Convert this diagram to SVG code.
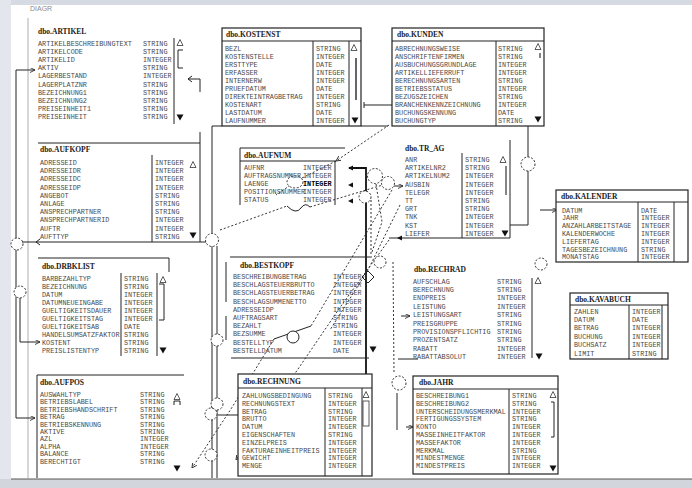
<svg xmlns="http://www.w3.org/2000/svg" xmlns:xlink="http://www.w3.org/1999/xlink" width="692" height="488" viewBox="0 0 692 488">
<style>
.t{font-family:"Liberation Mono",monospace;font-size:6.8px;fill:#4a4a4a}
.h{font-family:"Liberation Serif",serif;font-size:7.5px;font-weight:bold;fill:#1a1a1a}
.ti{font-family:"Liberation Sans",sans-serif;font-size:7px;fill:#8a8a8a}
.ln{stroke:#222;stroke-width:1;fill:none}
.bx{stroke:#222;stroke-width:1.2;fill:#fff}
.dot{stroke:#333;stroke-width:1;stroke-dasharray:2 2;fill:none}
.dc{stroke:#333;stroke-width:1;stroke-dasharray:2 1.6;fill:#fff}
.thk{stroke:#111;stroke-width:1.8;fill:none}
</style>
<defs>
<path id="up" d="M0,-3.5 L3,2.5 L-3,2.5 Z" fill="none" stroke="#333" stroke-width="0.8"/>
<path id="dn" d="M-3.5,-2.5 L3.5,-2.5 L0,3.5 Z" fill="#111"/>
<path id="lt" d="M3,-2.5 L-2,0 L3,2.5 Z" fill="#111"/>
<marker id="a" viewBox="0 0 6 6" refX="6" refY="3" markerWidth="5" markerHeight="5" orient="auto"><path d="M0,0 L6,3 L0,6" fill="none" stroke="#222" stroke-width="1"/></marker>
</defs>
<rect x="0" y="0" width="692" height="488" fill="#fff"/>
<rect x="0" y="0" width="692" height="5" fill="#d6dae2"/>
<rect x="0" y="0" width="11" height="488" fill="#e3e6ec"/>
<rect x="0" y="479" width="692" height="9" fill="#d2d5dc"/>
<line x1="11" y1="479" x2="692" y2="479" stroke="#555" stroke-width="1"/>
<text class="ti" x="30" y="11">DIAGR</text>
<line x1="28" y1="18" x2="28" y2="478" stroke="#999" stroke-width="0.8"/>

<g id="connectors">
<path class="ln" d="M16,243 L16,70 L35,70" marker-end="url(#a)"/>
<path class="ln" d="M16,243 L16,418 L35,418" marker-end="url(#a)"/>
<path class="ln" d="M20,292 L20,342 L40,342" marker-end="url(#a)"/>
<path class="ln" d="M188,79 L200,79 L200,92 M192,76 L188,79 L192,82"/>
<path class="ln" d="M212,126 L222,126 M361,126 L388,126 M212,126 L212,234"/>
<path class="ln" d="M212,246 L212,478 M217,246 L217,478"/>
<path class="ln" d="M364,102 L364,108 M364,105 L528,105 L528,157 M528,171 L528,225 L510,225 M510,140 L510,238"/>
<path class="ln" d="M540,210 L557,210" marker-end="url(#a)"/>
<path class="dot" d="M389,125 L336,161" marker-end="url(#a)"/>
<path class="dot" d="M336,161 L298,180 L276,195"/>
<path class="dot" d="M220,230 L287,206 M310,207 L386,184"/>
<path class="ln" d="M287,206 Q296,215 301,208 Q305,202 310,207"/>
<path class="ln" d="M394,186 L403,186" marker-end="url(#a)"/>
<path class="thk" d="M349,168 L366,168 L366,462"/>
<use href="#dn" x="366" y="465"/>
<use href="#lt" x="350" y="168"/>
<use href="#lt" x="350" y="185"/>
<use href="#lt" x="350" y="201"/>
<path class="dot" d="M371,200 L371,258 M376,184 L382,222 L372,252"/>
<path class="dot" d="M389,240 L341,306 L236,460" marker-end="url(#a)"/>
<path class="dot" d="M392,190 L311,326 M274,339 L231,409 L192,468" marker-end="url(#a)"/>
<path class="ln" d="M311,326 L274,339"/>
<path class="dot" d="M400,205 L368,270 L330,330"/>
<path class="dot" d="M393,262 L394,372"/>
<path class="ln" d="M397,393 L397,430 M398,359 L418,359"/>
<path class="ln" d="M218,415 L238,415"/>
<path class="ln" d="M226,262 L226,302 M226,316 L226,340"/>
<path class="ln" d="M406,427 L413,427" marker-end="url(#a)"/>
<path class="ln" d="M401,316 L410,316" marker-end="url(#a)"/>
<path class="ln" d="M368,271 L374,277 L368,283 L362,277 Z" fill="#fff"/>
<circle class="dc" cx="17" cy="244" r="6"/>
<circle class="dc" cx="20" cy="292" r="6"/>
<circle class="dc" cx="212" cy="240" r="6.5"/>
<circle class="dc" cx="217" cy="340" r="6"/>
<circle class="dc" cx="217" cy="404" r="6"/>
<circle class="dc" cx="211" cy="414" r="6"/>
<circle class="dc" cx="211" cy="455" r="6"/>
<circle class="dc" cx="528" cy="164" r="7"/>
<circle class="dc" cx="541" cy="264" r="6"/>
<circle class="dc" cx="375" cy="176" r="7.5"/>
<circle class="dc" cx="365" cy="197" r="6"/>
<circle class="dc" cx="388" cy="183" r="6.5"/>
<circle class="dc" cx="380" cy="262" r="6"/>
<circle class="dc" cx="399" cy="383" r="7"/>
<ellipse class="dc" cx="295" cy="182" rx="8" ry="6"/>
<circle cx="293" cy="337" r="6" fill="#fff" stroke="#222" stroke-width="1"/>
</g>

<g id="t-artikel">
<text class="h" x="38" y="34">dbo.ARTIKEL</text>
<line class="ln" x1="174" y1="38" x2="174" y2="124"/>
<text class="t" x="38" y="45.5">ARTIKELBESCHREIBUNGTEXT</text><text class="t" x="143" y="45.5">STRING</text>
<text class="t" x="38" y="53.7">ARTIKELCODE</text><text class="t" x="143" y="53.7">STRING</text>
<text class="t" x="38" y="61.9">ARTIKELID</text><text class="t" x="143" y="61.9">INTEGER</text>
<text class="t" x="38" y="70.1">AKTIV</text><text class="t" x="143" y="70.1">STRING</text>
<text class="t" x="38" y="78.3">LAGERBESTAND</text><text class="t" x="143" y="78.3">INTEGER</text>
<text class="t" x="38" y="86.5">LAGERPLATZNR</text><text class="t" x="143" y="86.5">STRING</text>
<text class="t" x="38" y="94.7">BEZEICHNUNG1</text><text class="t" x="143" y="94.7">STRING</text>
<text class="t" x="38" y="102.9">BEZEICHNUNG2</text><text class="t" x="143" y="102.9">STRING</text>
<text class="t" x="38" y="111.1">PREISEINHEIT1</text><text class="t" x="143" y="111.1">STRING</text>
<text class="t" x="38" y="119.3">PREISEINHEIT</text><text class="t" x="143" y="119.3">STRING</text>
<use href="#up" x="180" y="43"/>
<path class="ln" d="M183,50 L178,50 L178,68 L183,68"/>
<use href="#dn" x="180" y="117"/>
</g>

<g id="t-kostenst">
<rect class="bx" x="222" y="28" width="139" height="98"/>
<line class="ln" x1="222" y1="41" x2="361" y2="41"/>
<line class="ln" x1="313" y1="41" x2="313" y2="126"/>
<line class="ln" x1="349" y1="41" x2="349" y2="126"/>
<text class="h" x="226" y="37">dbo.KOSTENST</text>
<text class="t" x="225" y="50.5">BEZL</text><text class="t" x="316" y="50.5">STRING</text>
<text class="t" x="225" y="58.6">KOSTENSTELLE</text><text class="t" x="316" y="58.6">INTEGER</text>
<text class="t" x="225" y="66.7">ERSTTYPE</text><text class="t" x="316" y="66.7">DATE</text>
<text class="t" x="225" y="74.8">ERFASSER</text><text class="t" x="316" y="74.8">INTEGER</text>
<text class="t" x="225" y="82.9">INTERNERW</text><text class="t" x="316" y="82.9">INTEGER</text>
<text class="t" x="225" y="91">PRUEFDATUM</text><text class="t" x="316" y="91">DATE</text>
<text class="t" x="225" y="99.1">DIREKTEINTRAGBETRAG</text><text class="t" x="316" y="99.1">INTEGER</text>
<text class="t" x="225" y="107.2">KOSTENART</text><text class="t" x="316" y="107.2">STRING</text>
<text class="t" x="225" y="115.3">LASTDATUM</text><text class="t" x="316" y="115.3">DATE</text>
<text class="t" x="225" y="123.2">LAUFNUMMER</text><text class="t" x="316" y="123.2">INTEGER</text>
<use href="#up" x="354" y="48"/>
<line x1="356" y1="58" x2="356" y2="100" stroke="#333" stroke-width="1.5"/>
<use href="#dn" x="355" y="120"/>
</g>

<g id="t-kunden">
<rect class="bx" x="392" y="28" width="152" height="98"/>
<line class="ln" x1="392" y1="41" x2="544" y2="41"/>
<line class="ln" x1="496" y1="41" x2="496" y2="126"/>
<text class="h" x="397" y="37">dbo.KUNDEN</text>
<text class="t" x="395" y="50.5">ABRECHNUNGSWEISE</text><text class="t" x="498" y="50.5">STRING</text>
<text class="t" x="395" y="58.6">ANSCHRIFTENFIRMEN</text><text class="t" x="498" y="58.6">STRING</text>
<text class="t" x="395" y="66.7">AUSBUCHUNGSGRUNDLAGE</text><text class="t" x="498" y="66.7">INTEGER</text>
<text class="t" x="395" y="74.8">ARTIKELLIEFERRUFT</text><text class="t" x="498" y="74.8">INTEGER</text>
<text class="t" x="395" y="82.9">BERECHNUNGSARTEN</text><text class="t" x="498" y="82.9">STRING</text>
<text class="t" x="395" y="91">BETRIEBSSTATUS</text><text class="t" x="498" y="91">INTEGER</text>
<text class="t" x="395" y="99.1">BEZUGSZEICHEN</text><text class="t" x="498" y="99.1">STRING</text>
<text class="t" x="395" y="107.2">BRANCHENKENNZEICHNUNG</text><text class="t" x="498" y="107.2">INTEGER</text>
<text class="t" x="395" y="115.3">BUCHUNGSKENNUNG</text><text class="t" x="498" y="115.3">DATE</text>
<text class="t" x="395" y="123.2">BUCHUNGTYP</text><text class="t" x="498" y="123.2">STRING</text>
<use href="#up" x="538" y="47"/>
<line x1="540" y1="53" x2="540" y2="58" stroke="#333" stroke-width="1.2"/>
<use href="#dn" x="538" y="119"/>
</g>

<g id="t-aufkopf">
<path class="ln" d="M38,143 L200,143 M200,132 L200,242 M22,242 L206,242"/>
<path class="ln" d="M40,239 L36,242 L40,245"/>
<line class="ln" x1="152" y1="155" x2="152" y2="242"/>
<text class="h" x="40" y="152">dbo.AUFKOPF</text>
<text class="t" x="40" y="165">ADRESSEID</text><text class="t" x="155" y="165">INTEGER</text>
<text class="t" x="40" y="173.2">ADRESSEIDR</text><text class="t" x="155" y="173.2">INTEGER</text>
<text class="t" x="40" y="181.4">ADRESSEIDC</text><text class="t" x="155" y="181.4">INTEGER</text>
<text class="t" x="40" y="189.6">ADRESSEIDP</text><text class="t" x="155" y="189.6">INTEGER</text>
<text class="t" x="40" y="197.8">ANGEBOT</text><text class="t" x="155" y="197.8">STRING</text>
<text class="t" x="40" y="206">ANLAGE</text><text class="t" x="155" y="206">STRING</text>
<text class="t" x="40" y="214.2">ANSPRECHPARTNER</text><text class="t" x="155" y="214.2">STRING</text>
<text class="t" x="40" y="222.4">ANSPRECHPARTNERID</text><text class="t" x="155" y="222.4">INTEGER</text>
<text class="t" x="40" y="230.6">AUFTR</text><text class="t" x="155" y="230.6">INTEGER</text>
<text class="t" x="40" y="238.8">AUFTTYP</text><text class="t" x="155" y="238.8">STRING</text>
<use href="#up" x="193" y="165"/>
<use href="#dn" x="193" y="235"/>
</g>

<g id="t-drbklist">
<path class="ln" d="M38,258 L169,258 L169,272"/>
<line class="ln" x1="121" y1="273" x2="121" y2="356"/>
<line class="ln" x1="157" y1="273" x2="157" y2="356"/>
<text class="h" x="42" y="269">dbo.DRBKLIST</text>
<text class="t" x="42" y="280.5">BARBEZAHLTYP</text><text class="t" x="124" y="280.5">STRING</text>
<text class="t" x="42" y="288.6">BEZEICHNUNG</text><text class="t" x="124" y="288.6">STRING</text>
<text class="t" x="42" y="296.7">DATUM</text><text class="t" x="124" y="296.7">INTEGER</text>
<text class="t" x="42" y="304.8">DATUMNEUEINGABE</text><text class="t" x="124" y="304.8">INTEGER</text>
<text class="t" x="42" y="312.9">GUELTIGKEITSDAUER</text><text class="t" x="124" y="312.9">INTEGER</text>
<text class="t" x="42" y="321">GUELTIGKEITSTAG</text><text class="t" x="124" y="321">INTEGER</text>
<text class="t" x="42" y="329.1">GUELTIGKEITSAB</text><text class="t" x="124" y="329.1">DATE</text>
<text class="t" x="42" y="337.2">HANDELSUMSATZFAKTOR</text><text class="t" x="124" y="337.2">STRING</text>
<text class="t" x="42" y="345.3">KOSTENT</text><text class="t" x="124" y="345.3">STRING</text>
<text class="t" x="42" y="353.4">PREISLISTENTYP</text><text class="t" x="124" y="353.4">STRING</text>
<use href="#up" x="163" y="280"/>
<path class="ln" d="M159,284 L164,284 L164,320 L159,320"/>
<use href="#dn" x="163" y="350"/>
</g>

<g id="t-aufpos">
<path class="ln" d="M37,478 L37,375 L184,375"/>
<text class="h" x="40" y="385">dbo.AUFPOS</text>
<text class="t" x="40" y="397">AUSWAHLTYP</text><text class="t" x="140" y="397">STRING</text>
<text class="t" x="40" y="404.4">BETRIEBSLABEL</text><text class="t" x="140" y="404.4">STRING</text>
<text class="t" x="40" y="411.8">BETRIEBSHANDSCHRIFT</text><text class="t" x="140" y="411.8">STRING</text>
<text class="t" x="40" y="419.2">BETRAG</text><text class="t" x="140" y="419.2">STRING</text>
<text class="t" x="40" y="426.6">BETRIEBSKENNUNG</text><text class="t" x="140" y="426.6">STRING</text>
<text class="t" x="40" y="434">AKTIVE</text><text class="t" x="140" y="434">STRING</text>
<text class="t" x="40" y="441.4">AZL</text><text class="t" x="140" y="441.4">INTEGER</text>
<text class="t" x="40" y="448.8">ALPHA</text><text class="t" x="140" y="448.8">INTEGER</text>
<text class="t" x="40" y="456.2">BALANCE</text><text class="t" x="140" y="456.2">STRING</text>
<text class="t" x="40" y="463.6">BERECHTIGT</text><text class="t" x="140" y="463.6">STRING</text>
<use href="#up" x="177" y="397"/>
<path class="ln" d="M174,405 L174,401 L180,401 L180,405"/>
<use href="#dn" x="177" y="468"/>
</g>

<g id="t-aufnum">
<path class="ln" d="M240,205 L240,148 L345,148 M240,161 L336,161 M335,161 L335,205"/>
<text class="h" x="244" y="158">dbo.AUFNUM</text>
<text class="t" x="244" y="169.5">AUFNR</text><text class="t" x="303" y="169.5">INTEGER</text>
<text class="t" x="244" y="177.5">AUFTRAGSNUMMER</text><text class="t" x="303" y="177.5">INTEGER</text>
<text class="t" x="244" y="185.5">LAENGE</text><text class="t" x="303" y="185.5" style="font-weight:bold;fill:#000">INTEGER</text>
<text class="t" x="244" y="193.5">POSITIONSNUMMER</text><text class="t" x="303" y="193.5">INTEGER</text>
<text class="t" x="244" y="201.5">STATUS</text><text class="t" x="303" y="201.5">INTEGER</text>
</g>

<g id="t-trag">
<path class="ln" d="M389,238 L510,238 M462,153 L462,238"/>
<use href="#lt" x="399" y="238"/>
<text class="h" x="405" y="151">dbo.TR_AG</text>
<text class="t" x="405" y="162">ANR</text><text class="t" x="465" y="162">STRING</text>
<text class="t" x="405" y="170.2">ARTIKELNR2</text><text class="t" x="465" y="170.2">STRING</text>
<text class="t" x="405" y="178.4">ARTIKELNUM2</text><text class="t" x="465" y="178.4">INTEGER</text>
<text class="t" x="405" y="186.6">AUSBIN</text><text class="t" x="465" y="186.6">INTEGER</text>
<text class="t" x="405" y="194.8">TELEGR</text><text class="t" x="465" y="194.8">INTEGER</text>
<text class="t" x="405" y="203">TT</text><text class="t" x="465" y="203">STRING</text>
<text class="t" x="405" y="211.2">GRT</text><text class="t" x="465" y="211.2">STRING</text>
<text class="t" x="405" y="219.4">TNK</text><text class="t" x="465" y="219.4">INTEGER</text>
<text class="t" x="405" y="227.6">KST</text><text class="t" x="465" y="227.6">INTEGER</text>
<text class="t" x="405" y="235.8">LIEFER</text><text class="t" x="465" y="235.8">INTEGER</text>
<use href="#up" x="503" y="160"/>
<line x1="506" y1="166" x2="506" y2="195" stroke="#333" stroke-width="1.2"/>
<use href="#dn" x="505" y="233"/>
</g>

<g id="t-kalender">
<rect class="bx" x="556" y="190" width="132" height="72"/>
<line class="ln" x1="556" y1="202" x2="688" y2="202"/>
<line class="ln" x1="638" y1="202" x2="638" y2="262"/>
<line class="ln" x1="674" y1="202" x2="674" y2="262"/>
<text class="h" x="561" y="199">dbo.KALENDER</text>
<text class="t" x="562" y="212.5">DATUM</text><text class="t" x="641" y="212.5">DATE</text>
<text class="t" x="562" y="220.3">JAHR</text><text class="t" x="641" y="220.3">INTEGER</text>
<text class="t" x="562" y="228.1">ANZAHLARBEITSTAGE</text><text class="t" x="641" y="228.1">INTEGER</text>
<text class="t" x="562" y="235.9">KALENDERWOCHE</text><text class="t" x="641" y="235.9">INTEGER</text>
<text class="t" x="562" y="243.7">LIEFERTAG</text><text class="t" x="641" y="243.7">INTEGER</text>
<text class="t" x="562" y="251.5">TAGESBEZEICHNUNG</text><text class="t" x="641" y="251.5">STRING</text>
<text class="t" x="562" y="259.3">MONATSTAG</text><text class="t" x="641" y="259.3">INTEGER</text>
</g>

<g id="t-kavabuch">
<rect class="bx" x="570" y="293" width="98" height="66"/>
<line class="ln" x1="570" y1="305" x2="668" y2="305"/>
<line class="ln" x1="629" y1="305" x2="629" y2="359"/>
<line class="ln" x1="662" y1="305" x2="662" y2="359"/>
<text class="h" x="575" y="302">dbo.KAVABUCH</text>
<text class="t" x="574" y="313.5">ZAHLEN</text><text class="t" x="632" y="313.5">INTEGER</text>
<text class="t" x="574" y="321.9">DATUM</text><text class="t" x="632" y="321.9">DATE</text>
<text class="t" x="574" y="330.3">BETRAG</text><text class="t" x="632" y="330.3">INTEGER</text>
<text class="t" x="574" y="338.7">BUCHUNG</text><text class="t" x="632" y="338.7">INTEGER</text>
<text class="t" x="574" y="347.1">BUCHSATZ</text><text class="t" x="632" y="347.1">INTEGER</text>
<text class="t" x="574" y="355.5">LIMIT</text><text class="t" x="632" y="355.5">STRING</text>
</g>

<g id="t-bestkopf">
<path class="ln" d="M230,257 L370,257 M231,358 L369,358"/>
<text class="h" x="240" y="268">dbo.BESTKOPF</text>
<text class="t" x="233" y="279">BESCHREIBUNGBETRAG</text><text class="t" x="333" y="279">INTEGER</text>
<text class="t" x="233" y="287.2">BESCHLAGSTEUERBRUTTO</text><text class="t" x="333" y="287.2">INTEGER</text>
<text class="t" x="233" y="295.4">BESCHLAGSTEUERBETRAG</text><text class="t" x="333" y="295.4">INTEGER</text>
<text class="t" x="233" y="303.6">BESCHLAGSUMMENETTO</text><text class="t" x="333" y="303.6">INTEGER</text>
<text class="t" x="233" y="311.8">ADRESSEIDP</text><text class="t" x="333" y="311.8">INTEGER</text>
<text class="t" x="233" y="320">AUFTRAGSART</text><text class="t" x="333" y="320">STRING</text>
<text class="t" x="233" y="328.2">BEZAHLT</text><text class="t" x="333" y="328.2">STRING</text>
<text class="t" x="233" y="336.4">BEZSUMME</text><text class="t" x="333" y="336.4">INTEGER</text>
<text class="t" x="233" y="344.6">BESTELLTYP</text><text class="t" x="333" y="344.6">INTEGER</text>
<text class="t" x="233" y="352.8">BESTELLDATUM</text><text class="t" x="333" y="352.8">DATE</text>
<use href="#dn" x="373" y="349"/>
</g>

<g id="t-rechrad">
<line class="ln" x1="532" y1="278" x2="532" y2="358"/>
<text class="h" x="414" y="272">dbo.RECHRAD</text>
<text class="t" x="413" y="283.5">AUFSCHLAG</text><text class="t" x="497" y="283.5">STRING</text>
<text class="t" x="413" y="291.9">BERECHNUNG</text><text class="t" x="497" y="291.9">STRING</text>
<text class="t" x="413" y="300.3">ENDPREIS</text><text class="t" x="497" y="300.3">INTEGER</text>
<text class="t" x="413" y="308.7">LEISTUNG</text><text class="t" x="497" y="308.7">INTEGER</text>
<text class="t" x="413" y="317.1">LEISTUNGSART</text><text class="t" x="497" y="317.1">STRING</text>
<text class="t" x="413" y="325.5">PREISGRUPPE</text><text class="t" x="497" y="325.5">STRING</text>
<text class="t" x="413" y="333.9">PROVISIONSPFLICHTIG</text><text class="t" x="497" y="333.9">STRING</text>
<text class="t" x="413" y="342.3">PROZENTSATZ</text><text class="t" x="497" y="342.3">STRING</text>
<text class="t" x="413" y="350.7">RABATT</text><text class="t" x="497" y="350.7">INTEGER</text>
<text class="t" x="413" y="359.1">RABATTABSOLUT</text><text class="t" x="497" y="359.1">INTEGER</text>
<use href="#up" x="538" y="281"/>
<use href="#dn" x="539" y="356"/>
</g>

<g id="t-rechnung">
<rect class="bx" x="238" y="374" width="134" height="102"/>
<line class="ln" x1="238" y1="388" x2="372" y2="388"/>
<line class="ln" x1="325" y1="388" x2="325" y2="476"/>
<line class="ln" x1="362" y1="388" x2="362" y2="476"/>
<text class="h" x="243" y="384">dbo.RECHNUNG</text>
<text class="t" x="242" y="398">ZAHLUNGSBEDINGUNG</text><text class="t" x="328" y="398">STRING</text>
<text class="t" x="242" y="405.8">RECHNUNGSTEXT</text><text class="t" x="328" y="405.8">INTEGER</text>
<text class="t" x="242" y="413.6">BETRAG</text><text class="t" x="328" y="413.6">STRING</text>
<text class="t" x="242" y="421.4">BRUTTO</text><text class="t" x="328" y="421.4">INTEGER</text>
<text class="t" x="242" y="429.2">DATUM</text><text class="t" x="328" y="429.2">INTEGER</text>
<text class="t" x="242" y="437">EIGENSCHAFTEN</text><text class="t" x="328" y="437">STRING</text>
<text class="t" x="242" y="444.8">EINZELPREIS</text><text class="t" x="328" y="444.8">INTEGER</text>
<text class="t" x="242" y="452.6">FAKTURAEINHEITPREIS</text><text class="t" x="328" y="452.6">INTEGER</text>
<text class="t" x="242" y="460.4">GEWICHT</text><text class="t" x="328" y="460.4">INTEGER</text>
<text class="t" x="242" y="468.2">MENGE</text><text class="t" x="328" y="468.2">INTEGER</text>
<use href="#up" x="366" y="395"/>
<rect x="363" y="401" width="6" height="25" fill="#fff" stroke="#333" stroke-width="0.8"/>
</g>

<g id="t-jahr">
<rect class="bx" x="413" y="376" width="145" height="98"/>
<line class="ln" x1="413" y1="389" x2="558" y2="389"/>
<line class="ln" x1="509" y1="389" x2="509" y2="474"/>
<text class="h" x="419" y="385">dbo.JAHR</text>
<text class="t" x="416" y="398">BESCHREIBUNG1</text><text class="t" x="512" y="398">STRING</text>
<text class="t" x="416" y="405.8">BESCHREIBUNG2</text><text class="t" x="512" y="405.8">STRING</text>
<text class="t" x="416" y="413.6">UNTERSCHEIDUNGSMERKMAL</text><text class="t" x="512" y="413.6">INTEGER</text>
<text class="t" x="416" y="421.4">FERTIGUNGSSYSTEM</text><text class="t" x="512" y="421.4">STRING</text>
<text class="t" x="416" y="429.2">KONTO</text><text class="t" x="512" y="429.2">INTEGER</text>
<text class="t" x="416" y="437">MASSEINHEITFAKTOR</text><text class="t" x="512" y="437">INTEGER</text>
<text class="t" x="416" y="444.8">MASSEFAKTOR</text><text class="t" x="512" y="444.8">INTEGER</text>
<text class="t" x="416" y="452.6">MERKMAL</text><text class="t" x="512" y="452.6">STRING</text>
<text class="t" x="416" y="460.4">MINDESTMENGE</text><text class="t" x="512" y="460.4">INTEGER</text>
<text class="t" x="416" y="468.2">MINDESTPREIS</text><text class="t" x="512" y="468.2">INTEGER</text>
<use href="#up" x="553" y="395"/>
<path class="ln" d="M551,402 L554,402 L554,437 L551,437"/>
<use href="#dn" x="553" y="468"/>
</g>
</svg>
